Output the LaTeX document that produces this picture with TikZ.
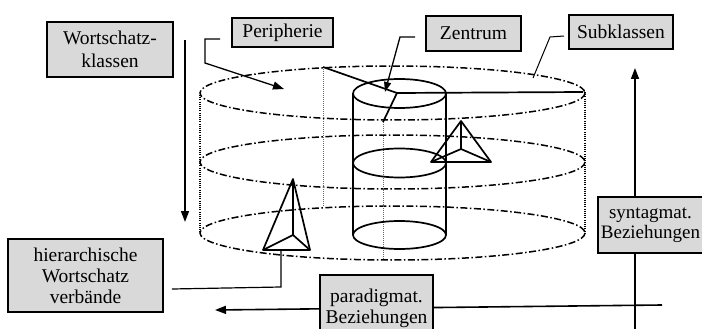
\documentclass[tikz,border=0pt]{standalone}
\usepackage{fontspec}
\setmainfont{Liberation Serif}
\usetikzlibrary{arrows.meta}
\definecolor{boxgray}{gray}{0.85}
\begin{document}
\begin{tikzpicture}[x=1pt,y=-1pt,
  lbl/.style={draw=black, line width=1.3pt, fill=boxgray, inner sep=0pt, align=center,
    font=\fontsize{19.5}{21}\selectfont},
  dd/.style={line width=1.5pt, dash pattern=on 7pt off 2.5pt on 1.5pt off 2.5pt},
  sidedot/.style={line width=1.5pt, dash pattern=on 1pt off 1.2pt},
  thindot/.style={line width=0.7pt, black!60, dash pattern=on 1pt off 1pt},
  solidln/.style={line width=1.7pt},
  arr/.style={line width=1.6pt, -{Triangle[length=11pt,width=8pt]}},
  ptr/.style={line width=1pt}
]
\clip (0,0) rectangle (702,329);
\fill[white] (0,0) rectangle (702,329);

% big cylinder (dash-dot ellipses)
\draw[dd] (392.5,93) ellipse [x radius=192.5, y radius=27];
\draw[dd] (392.5,162) ellipse [x radius=192.5, y radius=27];
\draw[dd] (392.5,233) ellipse [x radius=192.5, y radius=27];
\draw[sidedot] (200,95) -- (200,233);
\draw[sidedot] (585,92) -- (585,233);

% radius frame
\coordinate (back) at (323,67);
\coordinate (ctr) at (397,93);
\coordinate (rgt) at (583,92);
\coordinate (frt) at (383,122);
\draw[thindot] (back) -- (323,206);
\draw[thindot] (frt) -- (383,260);
\draw[solidln] (back) -- (ctr) -- (rgt);
\draw[solidln] (ctr) -- (frt);

% inner cylinder
\draw[solidln] (399.5,93.5) ellipse [x radius=46.5, y radius=14.5];
\draw[solidln] (399.5,163) ellipse [x radius=46.5, y radius=14.5];
\draw[solidln] (399.5,235) ellipse [x radius=46.5, y radius=14];
\draw[solidln] (353,93.5) -- (353,235);
\draw[solidln] (446,93.5) -- (446,235);

% left tetrahedron
\coordinate (la) at (293,179);
\coordinate (ll) at (263,250);
\coordinate (lr) at (310,250);
\coordinate (li) at (293,235);
\draw[solidln, line join=round] (la) -- (ll) -- (lr) -- cycle;
\draw[solidln] (la) -- (li) (ll) -- (li) -- (lr);

% right tetrahedron
\coordinate (ra) at (461,121);
\coordinate (rl) at (431,162);
\coordinate (rr) at (491,162);
\coordinate (ri) at (461,149);
\draw[solidln, line join=round] (ra) -- (rl) -- (rr) -- cycle;
\draw[solidln] (ra) -- (ri) (rl) -- (ri) -- (rr);

% label boxes
\node[lbl, minimum width=126pt, minimum height=55pt, font=\fontsize{19.5}{23}\selectfont] (wk) at (110,49.5) {Wortschatz-\\klassen};
\node[lbl, minimum width=101pt, minimum height=29pt] (peri) at (282.5,32.5) {Peripherie};
\node[lbl, minimum width=95pt, minimum height=35pt] (zent) at (473.5,33.5) {Zentrum};
\node[lbl, minimum width=104pt, minimum height=34pt] (sub) at (621,32) {Subklassen};
\node[lbl, minimum width=155pt, minimum height=73pt] (hier) at (85.5,275.5) {hierarchische\\Wortschatz\\verbände};

% axes
\coordinate (synB) at (635,335);
\coordinate (synT) at (635,68);
\coordinate (parR) at (662,305);
\coordinate (parL) at (215,310);
\draw[arr] (synB) -- (synT);
\draw[arr] (parR) -- (parL);
\node[lbl, minimum width=116pt, minimum height=56pt] (syn) at (656,225) {};
\node[font=\fontsize{19}{20.5}\selectfont, align=center, inner sep=0pt] (syntxt) at (650.5,225) {syntagmat.\\Beziehungen};
\node[lbl, minimum width=113pt, minimum height=66pt] (par) at (376.5,308) {paradigmat.\\Beziehungen};

% Wortschatzklassen arrow
\coordinate (wkT) at (185,40);
\coordinate (wkB) at (185,222);
\draw[arr] (wkT) -- (wkB);

% pointers
\coordinate (p1) at (220,39);
\coordinate (p2) at (205,39);
\coordinate (p3) at (205,63);
\coordinate (p4) at (284,89);
\draw[line width=1.3pt, -{Triangle[length=11pt,width=8pt]}] (p1) -- (p2) -- (p3) -- (p4);

\coordinate (z1) at (415,37);
\coordinate (z2) at (400,37);
\coordinate (z3) at (385,92);
\draw[line width=1.3pt, -{Triangle[length=10pt,width=7pt]}] (z1) -- (z2) -- (z3);

\coordinate (s1) at (564,36);
\coordinate (s2) at (550,37);
\coordinate (s3) at (533,78);
\draw[ptr] (s1) -- (s2) -- (s3);

\coordinate (h1) at (172,289);
\coordinate (h2) at (281,287);
\draw[line width=1.2pt] (h1) -- (h2) -- (281,251);
\end{tikzpicture}
\end{document}
